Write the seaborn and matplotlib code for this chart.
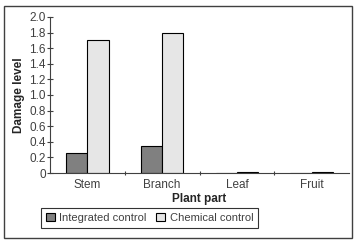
import pandas as pd
import matplotlib.pyplot as plt
import seaborn as sns
from matplotlib.patches import Rectangle
from matplotlib.ticker import FixedLocator

sns.set_style('white')
plt.rcParams['font.family'] = ['Liberation Sans', 'DejaVu Sans']

parts = ['Stem', 'Branch', 'Leaf', 'Fruit']
integrated = [0.26, 0.35, 0.0, 0.0]
chemical = [1.70, 1.79, 0.01, 0.01]
series = ['Integrated control', 'Chemical control']
colors = ['#808080', '#e6e6e6']
yticks = [0, 0.2, 0.4, 0.6, 0.8, 1.0, 1.2, 1.4, 1.6, 1.8, 2.0]
ytick_labels = ['0', '0.2', '0.4', '0.6', '0.8', '1.0', '1.2', '1.4', '1.6', '1.8', '2.0']

df = pd.DataFrame({
    'Plant part': parts * 2,
    'Damage level': integrated + chemical,
    'Treatment': [series[0]] * 4 + [series[1]] * 4,
})

fig = plt.figure(figsize=(3.57, 2.42), dpi=100)
ax = fig.add_axes([0.140, 0.285, 0.838, 0.645])

sns.barplot(df, x='Plant part', y='Damage level', hue='Treatment',
            palette=colors, width=0.57, edgecolor='black', linewidth=0.8,
            saturation=1, ax=ax)

ax.set_ylim(0, 2.0)
ax.set_xlim(-0.5, 3.5)
ax.set_yticks(yticks)
ax.set_yticklabels(ytick_labels)
sns.despine(ax=ax, top=True, right=True)
for s in ['left', 'bottom']:
    ax.spines[s].set_color('#404040')
    ax.spines[s].set_linewidth(0.8)

ax.tick_params(axis='y', direction='inout', length=4, width=0.8, color='#404040',
               labelsize=8.5, labelcolor='#404040', pad=1, left=True)
ax.tick_params(axis='x', which='major', length=0, labelsize=8.5, labelcolor='#404040', pad=4)
ax.xaxis.set_minor_locator(FixedLocator([0.5, 1.5, 2.5]))
ax.tick_params(axis='x', which='minor', direction='inout', length=3, width=0.8,
               color='#404040', bottom=True)

ax.set_xlabel('Plant part', fontsize=8.5, fontweight='bold', labelpad=2)
ax.set_ylabel('Damage level', fontsize=8.5, fontweight='bold', labelpad=3)

ax.legend_.remove()
handles = [Rectangle((0, 0), 1, 1, facecolor=c, edgecolor='black', linewidth=0.8) for c in colors]
leg = fig.legend(handles, series, loc='center', bbox_to_anchor=(0.419, 0.099), ncol=2,
                 frameon=True, fancybox=False, fontsize=8, handlelength=0.8,
                 handleheight=0.8, handletextpad=0.4, columnspacing=0.9,
                 borderpad=0.45, labelcolor='#404040')
leg.get_frame().set_edgecolor('black')
leg.get_frame().set_linewidth(0.8)

fig.patches.append(Rectangle((0.011, 0.017), 0.975, 0.96, transform=fig.transFigure,
                             fill=False, edgecolor='#404040', linewidth=1.0))

fig.savefig('out.png', dpi=100)
